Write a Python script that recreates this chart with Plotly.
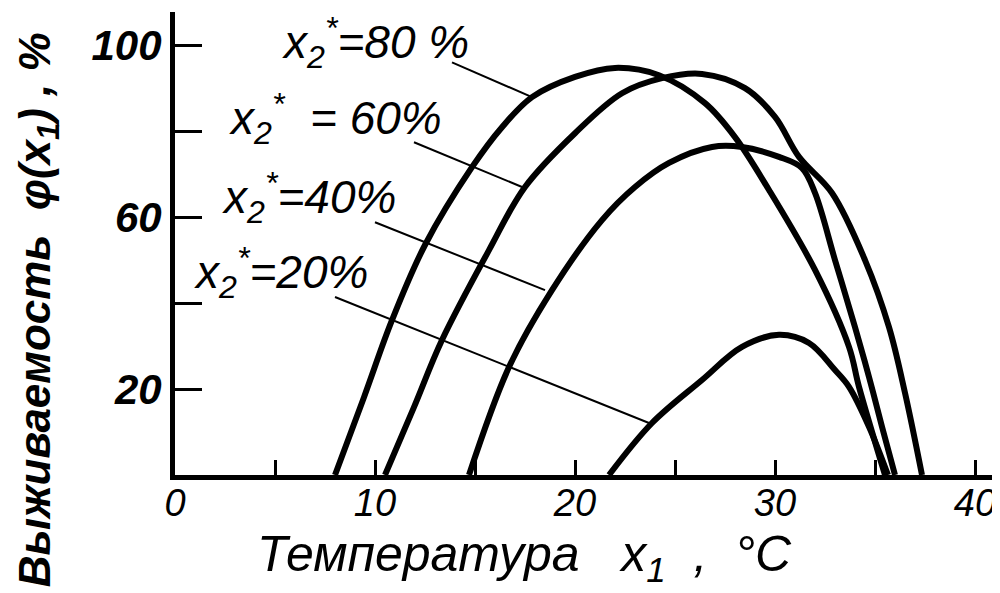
import plotly.graph_objects as go

# кривые выживаемости при разной влажности x2*
x80 = [8.0, 9.45, 10.85, 12.5, 14.85, 16.35, 17.85, 20.0, 22.0, 24.2, 26.5, 28.0, 29.7, 32.0, 33.7, 34.2, 35.5]
y80 = [0, 18.1, 36.0, 53.5, 71.6, 80.9, 87.9, 92.6, 94.7, 93.0, 86.5, 78.6, 66.3, 47.7, 29.8, 20.5, 0]

x60 = [10.5, 11.95, 13.35, 15.7, 17.5, 20.0, 22.35, 24.35, 26.35, 28.5, 30.0, 31.2, 32.85, 34.5, 35.7, 36.5, 37.35]
y60 = [0, 15.8, 31.4, 52.3, 67.0, 79.5, 88.8, 92.3, 93.3, 90.0, 83.3, 74.0, 65.6, 50.0, 34.4, 19.1, 0]

x40 = [14.7, 16.7, 18.85, 21.35, 23.0, 24.7, 26.85, 28.35, 30.2, 31.35, 32.0, 33.0, 34.0, 34.7, 35.35, 36.0]
y40 = [0, 25.1, 43.0, 59.3, 67.0, 72.6, 76.3, 76.3, 74.0, 71.4, 65.6, 50.0, 34.4, 22.8, 11.2, 0]

x20 = [21.7, 23.85, 26.35, 28.35, 30.2, 31.7, 33.0, 33.7, 34.7, 35.65]
y20 = [0, 12.1, 22.1, 29.8, 32.6, 30.7, 24.4, 20.5, 11.2, 0]

# подписи и выноски
labels = ["x<sub>2</sub><sup>*</sup>=80 %", "x<sub>2</sub><sup>*</sup>  = 60%",
          "x<sub>2</sub><sup>*</sup>=40%", "x<sub>2</sub><sup>*</sup>=20%"]
label_x = [5.25, 2.6, 2.25, 0.85]
label_y = [100.5, 83, 64.5, 47]
lead_x = [[13.85, 17.85], [11.95, 17.35], [10.0, 18.5], [8.0, 23.7]]
lead_y = [[96.0, 87.9], [77.4, 67.0], [58.8, 43.0], [41.4, 12.1]]

xticks = [0, 5, 10, 15, 20, 25, 30, 35, 40]
xticktext = ["0", "", "10", "", "20", "", "30", "", "40"]
yticks = [20, 40, 60, 80, 100]
yticktext = ["20", "", "60", "", "100"]

FONT = "Liberation Sans, Arial, sans-serif"

fig = go.Figure()
for xs, ys in [(x80, y80), (x60, y60), (x40, y40), (x20, y20)]:
    fig.add_trace(go.Scatter(x=xs, y=ys, mode="lines", line=dict(color="black", width=6, shape="spline", smoothing=1.0),
                             showlegend=False, hoverinfo="skip"))
for lx, ly in zip(lead_x, lead_y):
    fig.add_trace(go.Scatter(x=lx, y=ly, mode="lines", line=dict(color="black", width=2),
                             showlegend=False, hoverinfo="skip"))

for t, xx, yy in zip(labels, label_x, label_y):
    fig.add_annotation(x=xx, y=yy, text=t, showarrow=False, xanchor="left", yanchor="middle",
                       font=dict(family=FONT, size=46, color="black", style="italic"))

fig.add_annotation(xref="paper", yref="paper", x=-0.166, y=0.356, text="Выживаемость  φ(x<sub>1</sub>) , %",
                   textangle=-90, showarrow=False, xanchor="center", yanchor="middle",
                   font=dict(family=FONT, size=44, color="black", style="italic", weight="bold"))
fig.add_annotation(xref="paper", yref="paper", x=0.097, y=-0.178, text="Температура   x<sub>1</sub>  ,  °C",
                   showarrow=False, xanchor="left", yanchor="middle",
                   font=dict(family=FONT, size=50, color="black", style="italic"))

fig.update_xaxes(range=[0, 41.25], tickvals=xticks, ticktext=xticktext, ticks="inside", ticklen=15, tickwidth=3,
                 tickcolor="black", showline=True, linecolor="black", linewidth=5, showgrid=False, zeroline=False,
                 automargin=False, ticklabelstandoff=-10,
                 tickfont=dict(family=FONT, size=38, color="black", style="italic"))
fig.update_yaxes(range=[0, 107.7], tickvals=yticks, ticktext=yticktext, ticks="inside", ticklen=27, tickwidth=3,
                 tickcolor="black", showline=True, linecolor="black", linewidth=5, showgrid=False, zeroline=False,
                 automargin=False, tickfont=dict(family=FONT, size=42, color="black", style="italic", weight="bold"))
# страница открывается с отступом body 8px, поэтому фигура чуть меньше окна
fig.update_layout(width=992, height=585, margin=dict(l=167, r=0, t=4, b=118),
                  plot_bgcolor="white", paper_bgcolor="white")

fig.write_html("out.html")
